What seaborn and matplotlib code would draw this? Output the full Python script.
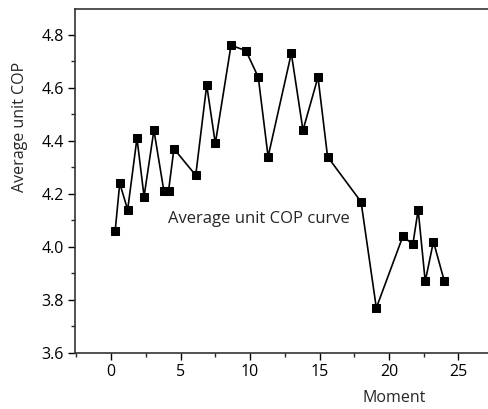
import matplotlib
matplotlib.use("Agg")
import matplotlib.pyplot as plt
import seaborn as sns
import pandas as pd
from matplotlib.ticker import MultipleLocator

moment = [0.29, 0.62, 1.19, 1.86, 2.37, 3.08, 3.80, 4.13, 4.52, 6.09, 6.88, 7.50,
          8.63, 9.70, 10.59, 11.30, 12.97, 13.81, 14.89, 15.58, 17.99, 19.09,
          21.00, 21.72, 22.10, 22.61, 23.20, 23.99]
cop = [4.06, 4.24, 4.14, 4.41, 4.19, 4.44, 4.21, 4.21, 4.37, 4.27, 4.61, 4.39,
       4.76, 4.74, 4.64, 4.34, 4.73, 4.44, 4.64, 4.34, 4.17, 3.77,
       4.04, 4.01, 4.14, 3.87, 4.02, 3.87]

df = pd.DataFrame({"Moment": moment, "COP": cop})

sns.set_style("ticks")
plt.rcParams['font.family'] = ['Open Sans', 'DejaVu Sans']

fig = plt.figure(figsize=(4.89, 4.09), dpi=100)
ax = fig.add_axes([0.1534, 0.1369, 0.8466, 0.8411])

sns.lineplot(data=df, x="Moment", y="COP", ax=ax, color="black", linewidth=1.2,
             marker="s", markersize=5.6, markerfacecolor="black", markeredgecolor="black")

ax.set_xlim(-2.6, 27.2)
ax.set_ylim(3.6, 4.897)
ax.xaxis.set_major_locator(MultipleLocator(5))
ax.xaxis.set_minor_locator(MultipleLocator(2.5))
ax.yaxis.set_major_locator(MultipleLocator(0.2))
ax.yaxis.set_minor_locator(MultipleLocator(0.1))
ax.yaxis.set_major_formatter(matplotlib.ticker.FormatStrFormatter('%.1f'))
ax.tick_params(axis='both', which='major', direction='out', length=5, width=1,
               labelsize=11.5, colors='black', pad=3)
ax.tick_params(axis='both', which='minor', direction='out', length=3, width=1)

for s in ['left', 'bottom', 'top']:
    ax.spines[s].set_linewidth(1.2)
    ax.spines[s].set_color('#333333')
ax.spines['right'].set_visible(False)

ax.set_xlabel("Moment", fontsize=11.5)
ax.set_ylabel("Average unit COP", fontsize=11.5)
ax.xaxis.label.set_va('center')
ax.yaxis.label.set_va('center')
ax.xaxis.set_label_coords(0.77, -0.131)
ax.yaxis.set_label_coords(-0.133, 0.657)

ax.text(4.06, 4.106, "Average unit COP curve", fontsize=12, ha='left', va='center')

fig.savefig("out.png", dpi=100)
